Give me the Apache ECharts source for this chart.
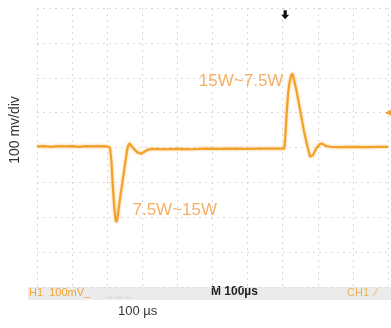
<!DOCTYPE html>
<html>
<head>
<meta charset="utf-8">
<script src="https://cdn.jsdelivr.net/npm/echarts@6/dist/echarts.min.js"></script>
<style>html,body{margin:0;padding:0;background:#fff}#c{width:391px;height:328px}</style>
</head>
<body>
<div id="c"></div>
<script>
// time in µs (10 div x 100 µs), voltage in mV (8 div x 100 mV)
const timeUs = [0,20,40,60,80,100,120,140,160,180,200,208,212,216,220,224,227,230,236,244,252,258,263,268,276,286,297,306,316,330,360,400,440,480,520,560,600,640,680,705,708,712,716,720,724,728,732,740,750,760,770,778,786,796,806,813,822,835,860,900,940,980,1000];
const voltMv = [3,4,2,4,3,4,2,4,3,4,3,0,-40,-110,-170,-208,-214,-198,-150,-95,-40,0,12,9,-4,-14,-18,-12,-6,-4,-5,-4,-5,-3,-4,-3,-4,-3,-3,-3,40,110,160,190,206,213,208,160,105,50,5,-27,-22,-2,10,11,5,2,1,2,1,2,2];
const annotations = [
  {name: '15W~7.5W', t: 702, v: 190, align: 'right'},
  {name: '7.5W~15W', t: 272, v: -180, align: 'left'}
];
const triggerPos = [707, 381];
const triggerLevel = [1000, 100];
const xTitle = '100 µs';
const yTitle = '100 mv/div';

const traceColor = '#f2a22a';
const chart = echarts.init(document.getElementById('c'));
const data = timeUs.map((t, i) => [t, voltMv[i]]);
const grid = {left: 37, right: 3, top: 8, bottom: 41};
const splitStyle = {color: '#d9d9d9', width: 1, type: [2, 4]};

chart.setOption({
  animation: false,
  backgroundColor: '#fff',
  grid: grid,
  xAxis: {
    type: 'value', min: 0, max: 1000, interval: 100,
    axisLine: {show: false}, axisTick: {show: false}, axisLabel: {show: false},
    splitLine: {show: true, lineStyle: splitStyle}
  },
  yAxis: {
    type: 'value', min: -400, max: 400, interval: 100,
    axisLine: {show: false}, axisTick: {show: false}, axisLabel: {show: false},
    splitLine: {show: true, lineStyle: splitStyle}
  },
  graphic: [
    {type: 'rect', z: -1, shape: {x: 28, y: 287, width: 363, height: 13}, style: {fill: '#ebebeb'}},
    {type: 'text', left: 29, top: 287, style: {text: 'H1  100mV_', fill: '#f0a434', font: '11px "Liberation Sans", Arial'}},
    {type: 'text', left: 107, top: 287, style: {text: '_ _ _', fill: '#cccccc', font: '11px "Liberation Sans", Arial'}},
    {type: 'text', left: 211, top: 286, style: {text: 'M 100µs', fill: '#222', font: 'bold 12px "Liberation Sans", Arial'}},
    {type: 'text', left: 347, top: 287, style: {text: 'CH1  ⁄', fill: '#f0b050', font: '11px "Liberation Sans", Arial'}},
    {type: 'text', left: 118, top: 305, style: {text: xTitle, fill: '#333', font: '13px "Liberation Sans", Arial'}},
    {type: 'text', x: 15, y: 130, rotation: Math.PI / 2, style: {text: yTitle, fill: '#333', font: '14px "Liberation Sans", Arial', align: 'center', verticalAlign: 'middle'}}
  ],
  series: [{
    type: 'line',
    data: data,
    showSymbol: false,
    symbol: 'none',
    lineStyle: {color: traceColor, width: 2.2, shadowBlur: 3, shadowColor: 'rgba(242,162,42,0.6)'},
    markPoint: {
      silent: true,
      data: annotations.map(a => ({
        coord: [a.t, a.v], symbol: 'circle', symbolSize: 0,
        label: {show: true, formatter: a.name, position: 'inside', align: a.align,
          color: '#f5b066', fontSize: 17, fontFamily: '"Liberation Sans", Arial'}
      })).concat([
        {coord: triggerPos, symbol: 'path://M3,0 L7,0 L7,5 L10,5 L5,10 L0,5 L3,5 Z', symbolSize: [8, 9],
          itemStyle: {color: '#111'}, label: {show: false}},
        {coord: triggerLevel, symbol: 'triangle', symbolRotate: 90, symbolSize: [6, 6],
          itemStyle: {color: '#f2a22a'}, label: {show: false}}
      ])
    }
  }]
});
</script>
</body>
</html>
